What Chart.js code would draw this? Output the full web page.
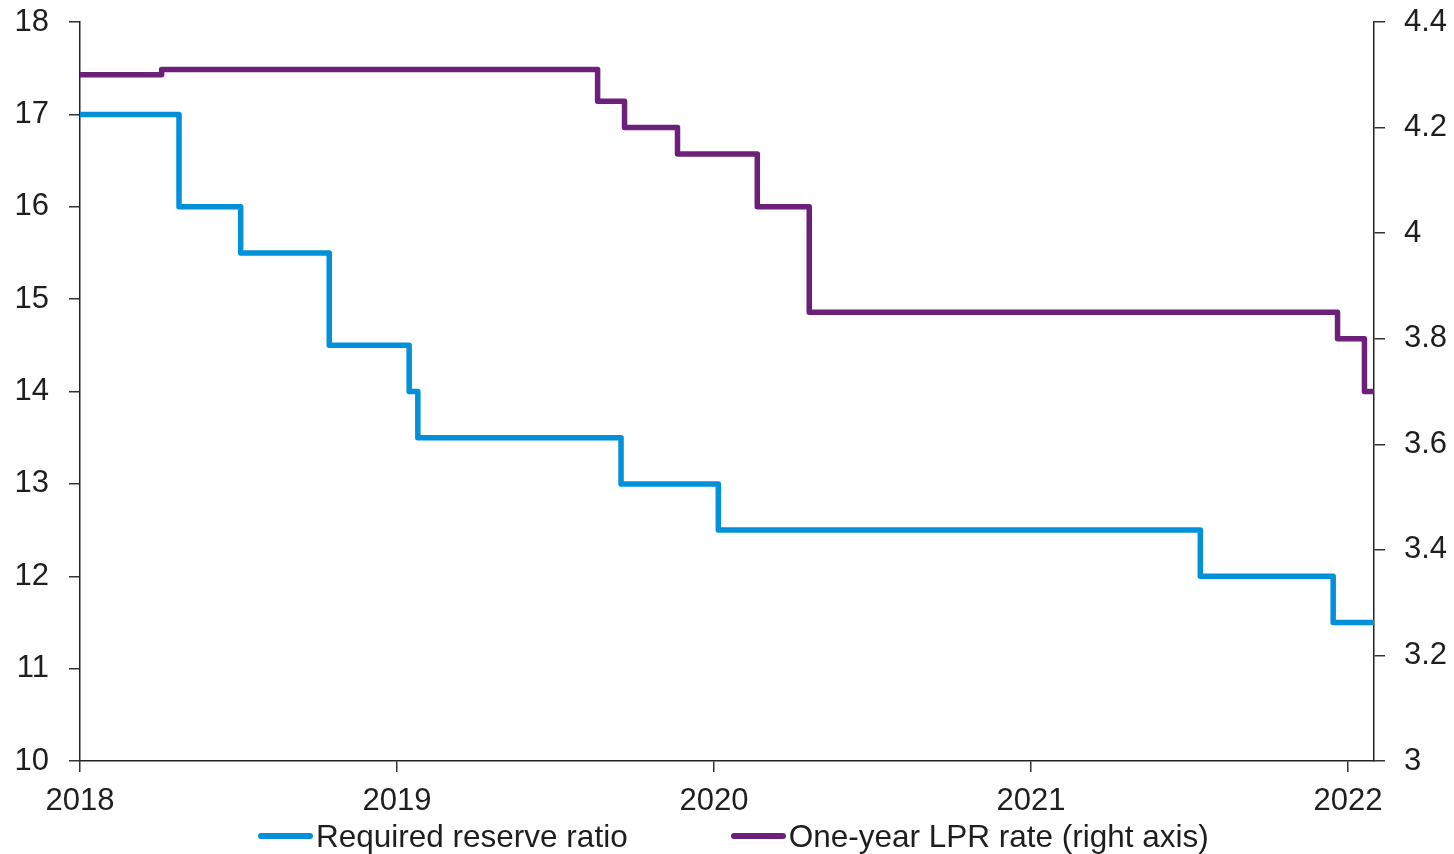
<!DOCTYPE html>
<html>
<head>
<meta charset="utf-8">
<script src="https://cdn.jsdelivr.net/npm/chart.js@4/dist/chart.umd.min.js"></script>
<style>
  html, body { margin: 0; padding: 0; background: #fff; }
  #wrap { position: relative; width: 1454px; height: 854px; }
  #legend { position: absolute; left: 258px; top: 817px; height: 38px; display: flex; align-items: center;
    font-family: "Liberation Sans", Arial, sans-serif; font-size: 31.5px; color: #1e1e1e; white-space: nowrap; }
  .item { display: flex; align-items: center; }
  .swatch { width: 55px; height: 6px; border-radius: 3px; margin-right: 3px; }
</style>
</head>
<body>
<div id="wrap">
  <canvas id="c" width="1454" height="854"></canvas>
  <div id="legend"></div>
</div>
<script>
// Required reserve ratio (left axis, %)
const rrrDates  = ['2018-01-01','2018-04-25','2018-07-05','2018-10-15','2019-01-15','2019-01-25','2019-09-16','2020-01-06','2021-07-15','2021-12-15','2022-01-31'];
const rrrValues = [17, 16, 15.5, 14.5, 14, 13.5, 13, 12.5, 12, 11.5, 11.5];
// One-year LPR (right axis, %)
const lprDates  = ['2018-01-01','2018-04-05','2019-08-20','2019-09-20','2019-11-20','2020-02-20','2020-04-20','2021-12-20','2022-01-20','2022-01-31'];
const lprValues = [4.30, 4.31, 4.25, 4.20, 4.15, 4.05, 3.85, 3.80, 3.70, 3.70];
const xTickYears = [2018, 2019, 2020, 2021, 2022];
const seriesNames = ['Required reserve ratio', 'One-year LPR rate (right axis)'];
const seriesColors = ['#0091da', '#6c207a'];
const xEnd = '2022-01-31';

function decYear(s) {
  const [y, m, d] = s.split('-').map(Number);
  const start = Date.UTC(y, 0, 1), next = Date.UTC(y + 1, 0, 1);
  return y + (Date.UTC(y, m - 1, d) - start) / (next - start);
}
const toPts = (dates, vals) => dates.map((d, i) => ({ x: decYear(d), y: vals[i] }));

const FONT = { family: '"Liberation Sans", Arial, sans-serif', size: 31 };
const TXT = '#1e1e1e';
const fitY = (s) => { s.width = 80; s.paddingTop = 0; s.paddingBottom = 0; };

new Chart(document.getElementById('c'), {
  type: 'line',
  data: {
    datasets: [
      { label: seriesNames[0], data: toPts(rrrDates, rrrValues), yAxisID: 'y', borderColor: seriesColors[0],
        borderWidth: 5.5, pointRadius: 0, stepped: 'before', fill: false, borderJoinStyle: 'round' },
      { label: seriesNames[1], data: toPts(lprDates, lprValues), yAxisID: 'y2', borderColor: seriesColors[1],
        borderWidth: 5.5, pointRadius: 0, stepped: 'before', fill: false, borderJoinStyle: 'round' }
    ]
  },
  options: {
    responsive: false, animation: false, maintainAspectRatio: false,
    layout: { padding: { top: 22, left: 0, right: 0, bottom: 0 } },
    plugins: { legend: { display: false }, tooltip: { enabled: false } },
    scales: {
      x: {
        type: 'linear', min: decYear('2018-01-01'), max: decYear(xEnd),
        afterBuildTicks: (s) => { s.ticks = xTickYears.map(v => ({ value: v })); },
        afterFit: (s) => { s.height = 93; },
        ticks: { font: FONT, color: TXT, padding: 11, maxRotation: 0, autoSkip: false, callback: v => String(v) },
        grid: { drawOnChartArea: false, tickLength: 11, color: '#333', lineWidth: 1.5 },
        border: { color: '#222', width: 1.5 }
      },
      y: {
        position: 'left', min: 10, max: 18,
        afterFit: fitY,
        ticks: { stepSize: 1, font: FONT, color: TXT, padding: 20 },
        grid: { drawOnChartArea: false, tickLength: 11, color: '#333', lineWidth: 1.5 },
        border: { color: '#222', width: 1.5 }
      },
      y2: {
        position: 'right', min: 3, max: 4.4,
        afterFit: fitY,
        ticks: { stepSize: 0.2, font: FONT, color: TXT, padding: 19, callback: v => String(Number(v.toFixed(1))) },
        grid: { drawOnChartArea: false, tickLength: 11, color: '#333', lineWidth: 1.5 },
        border: { color: '#222', width: 1.5 }
      }
    }
  }
});

const lg = document.getElementById('legend');
seriesNames.forEach((n, i) => {
  const it = document.createElement('div');
  it.className = 'item';
  if (i > 0) it.style.marginLeft = '103px';
  const sw = document.createElement('div');
  sw.className = 'swatch';
  sw.style.background = seriesColors[i];
  const tx = document.createElement('span');
  tx.textContent = n;
  it.appendChild(sw); it.appendChild(tx);
  lg.appendChild(it);
});
</script>
</body>
</html>
